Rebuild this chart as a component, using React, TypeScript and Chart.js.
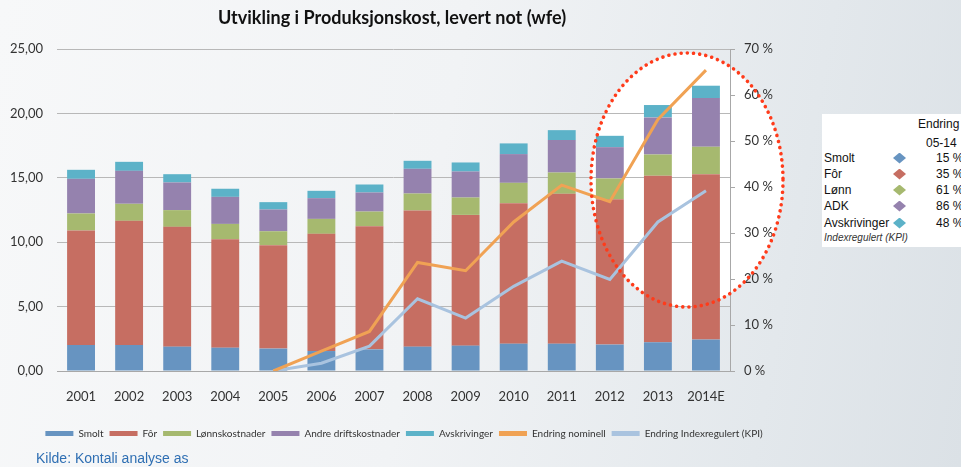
import React, { useEffect, useRef } from 'react';
import { Chart, registerables } from 'chart.js';

Chart.register(...registerables);

const categories = ['2001', '2002', '2003', '2004', '2005', '2006', '2007', '2008', '2009', '2010', '2011', '2012', '2013', '2014E'];
const smolt = [2.02, 2.02, 1.89, 1.81, 1.74, 1.55, 1.68, 1.89, 1.97, 2.12, 2.12, 2.05, 2.23, 2.44];
const forValues = [8.89, 9.64, 9.30, 8.42, 8.03, 9.10, 9.56, 10.57, 10.15, 10.91, 11.64, 11.29, 12.93, 12.84];
const lonn = [1.32, 1.32, 1.30, 1.19, 1.08, 1.16, 1.14, 1.32, 1.35, 1.58, 1.65, 1.61, 1.65, 2.13];
const adk = [2.69, 2.56, 2.15, 2.10, 1.69, 1.61, 1.48, 1.92, 2.02, 2.23, 2.52, 2.43, 2.88, 3.78];
const avskr = [0.70, 0.70, 0.64, 0.63, 0.57, 0.57, 0.62, 0.62, 0.70, 0.83, 0.77, 0.88, 0.96, 0.96];
const nominell = [null, null, null, null, 0, 4.3, 8.6, 23.6, 21.8, 32.4, 40.4, 36.8, 54.7, 65.4];
const kpi = [null, null, null, null, 0, 1.7, 5.4, 15.7, 11.5, 18.4, 23.9, 19.9, 32.4, 39.2];

const leftTicks = [0, 5, 10, 15, 20, 25];
const rightTicks = [0, 10, 20, 30, 40, 50, 60, 70];

const tableLabels = ['Smolt', 'Fôr', 'Lønn', 'ADK', 'Avskrivinger'];
const tableChange = [15, 35, 61, 86, 48];

const COLORS = {
  smolt: '#6794c1',
  for: '#c66e62',
  lonn: '#a6b96f',
  adk: '#9582ae',
  avskr: '#5cb2c8',
  nom: '#f0a254',
  kpi: '#a9c3df',
};
const tableColors = [COLORS.smolt, COLORS.for, COLORS.lonn, COLORS.adk, COLORS.avskr];

const FONT = "Lato, 'Open Sans', sans-serif";

const ellipsePlugin = {
  id: 'ellipseMark',
  afterLayout(chart: any) {
    if (chart.legend) {
      chart.legend.left += 12;
      chart.legend.right += 12;
    }
  },
  beforeDraw(chart: any) {
    const ctx = chart.ctx;
    ctx.save();
    ctx.beginPath();
    ctx.ellipse(687, 180, 96, 127, 0, 0, Math.PI * 2);
    ctx.fillStyle = '#ffffff';
    ctx.fill();
    ctx.restore();
  },
  afterDraw(chart: any) {
    const ctx = chart.ctx;
    ctx.save();
    ctx.beginPath();
    ctx.ellipse(687, 180, 96, 127, 0, 0, Math.PI * 2);
    ctx.setLineDash([0.01, 6.2]);
    ctx.lineCap = 'round';
    ctx.lineWidth = 3.6;
    ctx.strokeStyle = '#ff3b1a';
    ctx.stroke();
    ctx.restore();
  },
};

function ChartCanvas() {
  const ref = useRef<HTMLCanvasElement | null>(null);
  useEffect(() => {
    if (!ref.current) return;
    const barCommon = { type: 'bar' as const, yAxisID: 'y', order: 2, borderWidth: 0, barPercentage: 0.58, categoryPercentage: 1 };
    const chart = new Chart(ref.current, {
      type: 'bar',
      data: {
        labels: categories,
        datasets: [
          { ...barCommon, label: 'Smolt', data: smolt, backgroundColor: COLORS.smolt },
          { ...barCommon, label: 'Fôr', data: forValues, backgroundColor: COLORS.for },
          { ...barCommon, label: 'Lønnskostnader', data: lonn, backgroundColor: COLORS.lonn },
          { ...barCommon, label: 'Andre driftskostnader', data: adk, backgroundColor: COLORS.adk },
          { ...barCommon, label: 'Avskrivinger', data: avskr, backgroundColor: COLORS.avskr },
          { type: 'line', label: 'Endring nominell', data: nominell as any, yAxisID: 'y1', order: 1, borderColor: COLORS.nom, backgroundColor: COLORS.nom, borderWidth: 3, pointRadius: 0, tension: 0 } as any,
          { type: 'line', label: 'Endring Indexregulert (KPI)', data: kpi as any, yAxisID: 'y1', order: 1, borderColor: COLORS.kpi, backgroundColor: COLORS.kpi, borderWidth: 3, pointRadius: 0, tension: 0 } as any,
        ],
      },
      options: {
        animation: false,
        responsive: false,
        layout: { padding: { left: 0, right: 16, top: 0, bottom: 18.5 } },
        plugins: {
          title: {
            display: true,
            text: 'Utvikling i Produksjonskost, levert not (wfe)',
            color: '#111111',
            font: { family: FONT, size: 18, weight: 'bold' },
            padding: { top: 7, bottom: 20.4 },
          },
          legend: {
            position: 'bottom',
            labels: {
              boxWidth: 28,
              boxHeight: 5,
              padding: 6,
              color: '#333333',
              font: { family: FONT, size: 10 },
              sort: (a: any, b: any) => a.datasetIndex - b.datasetIndex,
              generateLabels: (chart: any) => {
                const items = Chart.defaults.plugins.legend.labels.generateLabels(chart);
                return items.map((it: any) => ({ ...it, lineWidth: 0, strokeStyle: 'rgba(0,0,0,0)' }));
              },
            },
          },
          tooltip: { enabled: false },
        },
        scales: {
          x: {
            stacked: true,
            grid: { display: false },
            border: { display: true, color: '#a8a8a8' },
            ticks: { color: '#333333', font: { family: FONT, size: 13 }, padding: 10, maxRotation: 0 },
            afterFit: (s: any) => { s.height = 51.5; },
          },
          y: {
            stacked: true,
            position: 'left',
            min: 0,
            max: 25,
            afterBuildTicks: (s: any) => { s.ticks = leftTicks.map((v) => ({ value: v })); },
            grid: { color: '#b8b8b8', drawTicks: false },
            border: { display: false },
            ticks: {
              color: '#333333',
              font: { family: FONT, size: 13 },
              padding: 14,
              callback: (v: any) => Number(v).toFixed(2).replace('.', ','),
            },
            afterFit: (s: any) => { s.width = 57; },
          },
          y1: {
            position: 'right',
            min: 0,
            max: 70,
            afterBuildTicks: (s: any) => { s.ticks = rightTicks.map((v) => ({ value: v })); },
            grid: { drawOnChartArea: false, drawTicks: true, tickLength: 5, color: '#a8a8a8' },
            border: { display: true, color: '#a8a8a8' },
            ticks: {
              color: '#333333',
              font: { family: FONT, size: 13 },
              padding: 9,
              callback: (v: any) => `${v} %`,
            },
            afterFit: (s: any) => { s.width = 54; },
          },
        },
      } as any,
      plugins: [ellipsePlugin],
    });
    return () => chart.destroy();
  }, []);
  return <canvas ref={ref} width={800} height={467} style={{ position: 'absolute', left: 0, top: 0, width: 800, height: 467 }} />;
}

function ChangeTable() {
  const rowTops = [151, 167, 183, 199, 216];
  const txt: React.CSSProperties = { position: 'absolute', fontFamily: "'Liberation Sans', Arial, sans-serif", fontSize: 12, color: '#111', whiteSpace: 'nowrap', lineHeight: '14px' };
  return (
    <div style={{ position: 'absolute', left: 822, top: 114, width: 150, height: 133, background: '#ffffff' }}>
      <div style={{ ...txt, left: 96, top: 3 }}>Endring</div>
      <div style={{ ...txt, left: 104, top: 22 }}>05-14</div>
      {tableLabels.map((lab, i) => (
        <React.Fragment key={lab}>
          <div style={{ ...txt, left: 2, top: rowTops[i] - 114 }}>{lab}</div>
          <div style={{ position: 'absolute', left: 71, top: rowTops[i] - 114 + 1.5, width: 13, height: 11, background: tableColors[i], clipPath: 'polygon(50% 0, 100% 50%, 50% 100%, 0 50%)' }} />
          <div style={{ ...txt, left: 114, top: rowTops[i] - 114 }}>{tableChange[i]} %</div>
        </React.Fragment>
      ))}
      <div style={{ ...txt, left: 2, top: 117, fontSize: 10, fontStyle: 'italic', color: '#333' }}>Indexregulert (KPI)</div>
    </div>
  );
}

export default function App() {
  return (
    <div style={{ position: 'fixed', left: 0, top: 0, width: 961, height: 467, overflow: 'hidden', background: 'linear-gradient(100deg, #f7f8f9 0%, #f1f3f5 45%, #e3e8ec 80%, #dbe1e6 100%)' }}>
      <ChartCanvas />
      <ChangeTable />
      <div style={{ position: 'absolute', left: 36, top: 450, fontFamily: "'Liberation Sans', Arial, sans-serif", fontSize: 14, color: '#2f6fb3', whiteSpace: 'nowrap' }}>Kilde: Kontali analyse as</div>
    </div>
  );
}
